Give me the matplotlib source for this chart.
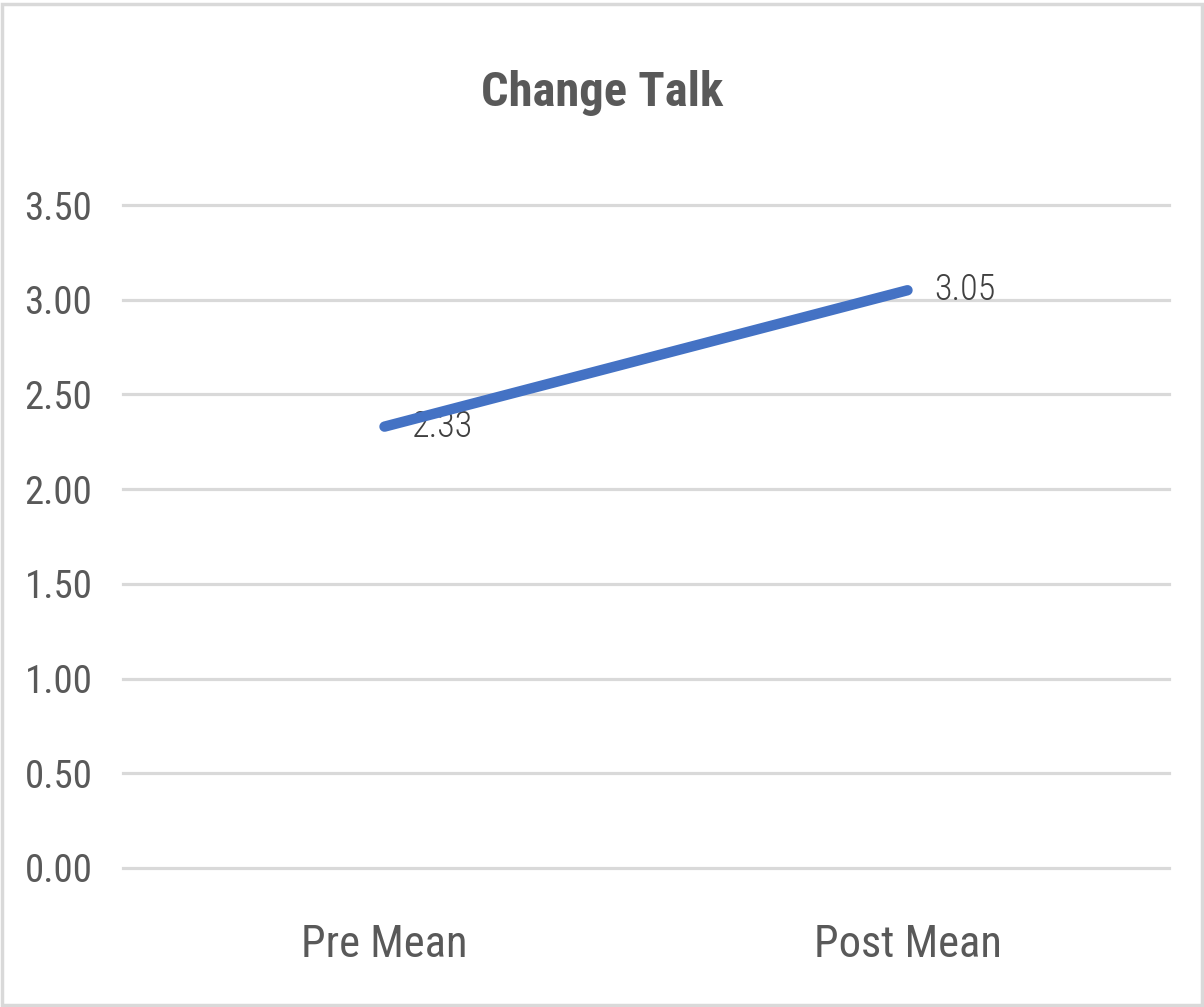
import matplotlib
matplotlib.use("Agg")
import matplotlib.pyplot as plt
from matplotlib import font_manager
from matplotlib.patches import Rectangle

# Data
categories = ["Pre Mean", "Post Mean"]
values = [2.33, 3.05]
yticks = [0.0, 0.5, 1.0, 1.5, 2.0, 2.5, 3.0, 3.5]
title = "Change Talk"

# Prefer a condensed sans face if one is installed
installed = {f.name for f in font_manager.fontManager.ttflist}
family = None
for cand in ["Liberation Sans Narrow", "Roboto Condensed", "Open Sans Condensed",
             "DejaVu Sans Condensed", "Liberation Sans"]:
    if cand in installed:
        family = cand
        break
if family is None:
    family = "DejaVu Sans"
plt.rcParams["font.family"] = [family, "DejaVu Sans"]

text_color = "#595959"
grid_color = "#d9d9d9"
line_color = "#4472c4"

W, H = 1204, 1007
fig = plt.figure(figsize=(W / 100, H / 100), dpi=100)
fig.patch.set_facecolor("white")

# Outer chart border
fig.add_artist(Rectangle((0.0015, 0.0015), 0.997, 0.995, transform=fig.transFigure,
                         fill=False, edgecolor=grid_color, linewidth=2.5))

left, right = 123 / W, 1169 / W
bottom, top = (H - 868) / H, (H - 205) / H
ax = fig.add_axes([left, bottom, right - left, top - bottom])

x = list(range(len(categories)))
ax.plot(x, values, color=line_color, linewidth=7.5, solid_capstyle="round", zorder=3)

ax.set_xlim(-0.5, len(categories) - 0.5)
ax.set_ylim(0, 3.5)
ax.set_yticks(yticks)
ax.set_yticklabels([f"{v:.2f}" for v in yticks], fontsize=28, color=text_color)
ax.set_xticks(x)
ax.set_xticklabels(categories, fontsize=32, color=text_color)
ax.tick_params(axis="y", length=0, pad=22)
ax.tick_params(axis="x", length=0, pad=40)

ax.grid(axis="y", color=grid_color, linewidth=2.3)
ax.grid(axis="x", visible=False)
for gl in ax.get_ygridlines():
    gl.set_clip_on(False)
ax.set_axisbelow(True)
for s in ax.spines.values():
    s.set_visible(False)

# Data labels to the right of each point
for xi, v in zip(x, values):
    ax.annotate(f"{v:.2f}", xy=(xi, v), xytext=(19, 0), textcoords="offset points",
                ha="left", va="center", fontsize=26, color="#404040",
                fontweight="light", zorder=2)

fig.text(0.5, (H - 93) / H, title, ha="center", va="center", fontsize=35,
         fontweight="bold", color=text_color)

fig.savefig("out.png", dpi=100, facecolor="white")
